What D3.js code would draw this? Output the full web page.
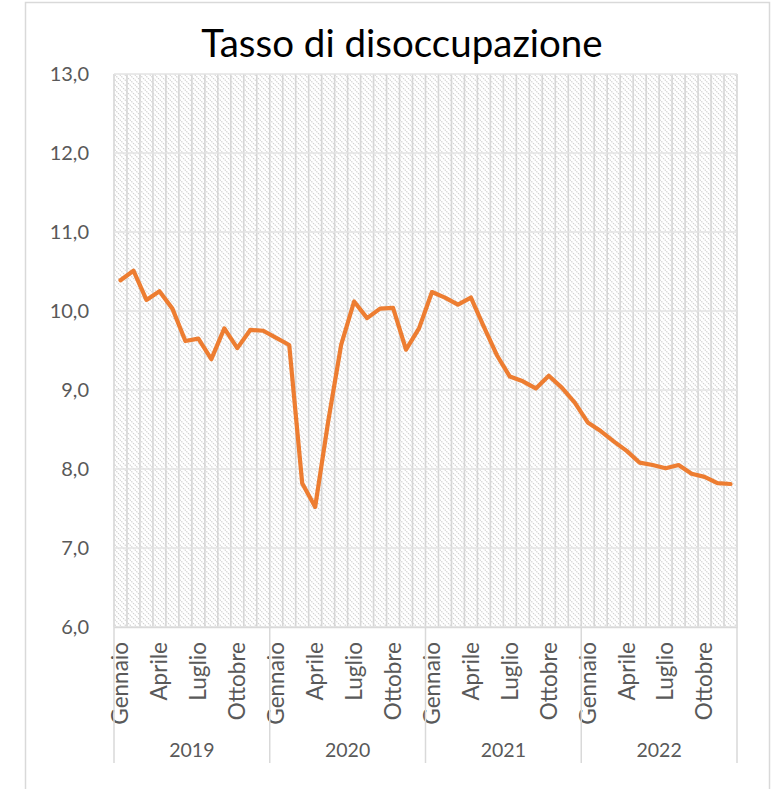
<!DOCTYPE html>
<html>
<head>
<meta charset="utf-8">
<script src="https://cdn.jsdelivr.net/npm/d3@7"></script>
<style>
  body { margin: 0; background: #fff; }
  text { font-family: Lato, "Open Sans", sans-serif; }
</style>
</head>
<body>
<script>
// ### Data ###
var years = ["2019", "2020", "2021", "2022"];
var monthNames = ["Gennaio", "Febbraio", "Marzo", "Aprile", "Maggio", "Giugno",
                  "Luglio", "Agosto", "Settembre", "Ottobre", "Novembre", "Dicembre"];
var shownMonths = ["Gennaio", "Aprile", "Luglio", "Ottobre"];
var yTicks = [6, 7, 8, 9, 10, 11, 12, 13];
var rate2019 = [10.39, 10.51, 10.14, 10.25, 10.03, 9.62, 9.65, 9.39, 9.78, 9.53, 9.76, 9.75];
var rate2020 = [9.66, 9.57, 7.82, 7.52, 8.6, 9.57, 10.12, 9.91, 10.03, 10.04, 9.51, 9.78];
var rate2021 = [10.24, 10.17, 10.08, 10.17, 9.8, 9.44, 9.17, 9.11, 9.02, 9.18, 9.03, 8.84];
var rate2022 = [8.59, 8.48, 8.35, 8.23, 8.08, 8.05, 8.01, 8.05, 7.94, 7.9, 7.82, 7.81];

var series = [rate2019, rate2020, rate2021, rate2022];
var data = [];
years.forEach(function(yr, yi){
  series[yi].forEach(function(v, mi){
    data.push({key: yr + "-" + mi, year: yr, month: monthNames[mi], value: v});
  });
});

// ### Layout ###
var W = 779, H = 789;
var margin = {top: 74, left: 114, right: 42, bottom: 162};
var width = W - margin.left - margin.right;
var height = H - margin.top - margin.bottom;

var svg = d3.select("body").append("svg")
  .attr("width", W).attr("height", H);

// outer frame
svg.append("rect")
  .attr("x", 25.5).attr("y", 2.5)
  .attr("width", 744).attr("height", 820)
  .attr("fill", "none").attr("stroke", "#d9d9d9").attr("stroke-width", 1.5);

// hatch pattern
var pat = svg.append("defs").append("pattern")
  .attr("id", "hatch").attr("patternUnits", "userSpaceOnUse")
  .attr("width", 5).attr("height", 5);
pat.append("path")
  .attr("d", "M-1,-1 L6,6 M-1,4 L1,6 M4,-1 L6,1")
  .attr("stroke", "#cfcfcf").attr("stroke-width", 1.2)
  .attr("stroke-dasharray", "1.4,1");

var g = svg.append("g")
  .attr("transform", "translate(" + margin.left + "," + margin.top + ")");

var x = d3.scaleBand()
  .domain(data.map(function(d){ return d.key; }))
  .range([0, width]);
var y = d3.scaleLinear().domain([6, 13]).range([height, 0]);

g.append("rect")
  .attr("width", width).attr("height", height)
  .attr("fill", "url(#hatch)");

// vertical gridlines at every month boundary
g.append("g").selectAll("line")
  .data(data)
  .enter().append("line")
  .attr("x1", function(d){ return x(d.key); })
  .attr("x2", function(d){ return x(d.key); })
  .attr("y1", 0).attr("y2", height)
  .attr("stroke", "#d6d6d6").attr("stroke-width", 1.6);
g.append("line")
  .attr("x1", width).attr("x2", width).attr("y1", 0).attr("y2", height)
  .attr("stroke", "#d6d6d6").attr("stroke-width", 1.6);

// horizontal gridlines
g.append("g").selectAll("line")
  .data(yTicks)
  .enter().append("line")
  .attr("x1", 0).attr("x2", width)
  .attr("y1", function(d){ return y(d); })
  .attr("y2", function(d){ return y(d); })
  .attr("stroke", "#e3e3e3").attr("stroke-width", 1.5);

// y axis labels
var fmt = function(v){ return d3.format(".1f")(v).replace(".", ","); };
var yAxis = g.append("g")
  .attr("transform", "translate(-22,0)")
  .call(d3.axisLeft(y).tickValues(yTicks).tickFormat(fmt).tickSize(0));
yAxis.select(".domain").remove();
yAxis.selectAll("text")
  .attr("font-size", 20).attr("fill", "#595959")
  .style("font-family", "Lato, sans-serif");

// x axis: month labels
var monthAxis = g.append("g")
  .attr("transform", "translate(0," + height + ")")
  .call(d3.axisBottom(x).tickSize(0).tickFormat(function(k){
    var d = data.find(function(e){ return e.key === k; });
    return shownMonths.indexOf(d.month) >= 0 ? d.month : "";
  }));
monthAxis.select(".domain")
  .attr("stroke", "#d9d9d9").attr("stroke-width", 1.5);
monthAxis.selectAll("text")
  .attr("transform", "rotate(-90)")
  .attr("text-anchor", "end")
  .attr("x", -15).attr("y", 0).attr("dy", "0.35em")
  .attr("font-size", 22.5).attr("fill", "#595959")
  .style("font-family", "Lato, sans-serif");

// year separators and labels
var yearGroups = years.map(function(yr){
  var ks = data.filter(function(d){ return d.year === yr; });
  return {year: yr, x0: x(ks[0].key), x1: x(ks[ks.length - 1].key) + x.bandwidth()};
});
g.append("g").selectAll("line")
  .data(yearGroups.map(function(d){ return d.x0; }).concat([width]))
  .enter().append("line")
  .attr("x1", function(d){ return d; }).attr("x2", function(d){ return d; })
  .attr("y1", height).attr("y2", height + 136)
  .attr("stroke", "#d9d9d9").attr("stroke-width", 1.5);
g.append("g").selectAll("text")
  .data(yearGroups)
  .enter().append("text")
  .attr("x", function(d){ return (d.x0 + d.x1) / 2; })
  .attr("y", height + 130)
  .attr("text-anchor", "middle")
  .attr("font-size", 19.5).attr("fill", "#595959")
  .text(function(d){ return d.year; });

// line
var line = d3.line()
  .x(function(d){ return x(d.key) + x.bandwidth() / 2; })
  .y(function(d){ return y(d.value); });
g.append("path")
  .datum(data)
  .attr("d", line)
  .attr("fill", "none")
  .attr("stroke", "#ed7d31")
  .attr("stroke-width", 4.2)
  .attr("stroke-linejoin", "round")
  .attr("stroke-linecap", "round");

// title
svg.append("text")
  .attr("x", 402).attr("y", 57)
  .attr("text-anchor", "middle")
  .attr("font-size", 38.5).attr("fill", "#000")
  .text("Tasso di disoccupazione");
</script>
</body>
</html>
